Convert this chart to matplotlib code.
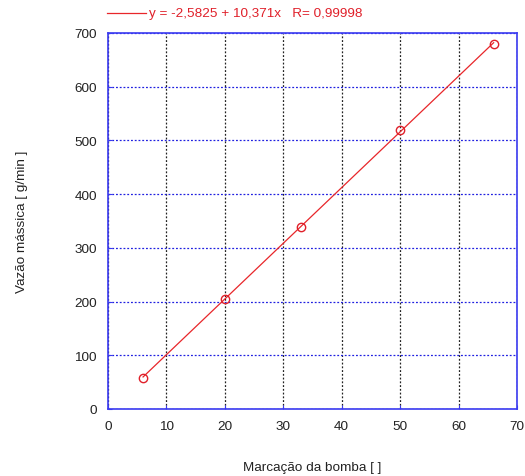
import numpy as np
import matplotlib.pyplot as plt

plt.rcParams['font.family'] = ['Liberation Sans', 'DejaVu Sans']

marcacao = [6, 20, 33, 50, 66]
vazao = [58, 204, 338, 519, 679]
a, b, r = -2.5825, 10.371, 0.99998

fig = plt.figure(figsize=(5.25, 4.77), dpi=100)
ax = fig.add_axes([108/525, 1-410/477, (517-108)/525, (410-34)/477])

x_fit = np.array([marcacao[0], marcacao[-1]])
ax.plot(x_fit, a + b*x_fit, color='#e8262a', lw=0.9)
ax.plot(marcacao, vazao, 'o', mfc='none', mec='#e0202a', ms=6, mew=1.0)

ax.set_xlim(0, 70)
ax.set_ylim(0, 700)
ax.set_xticks(range(0, 71, 10))
ax.set_yticks(range(0, 701, 100))
ax.grid(axis='x', color='#222222', ls=(0, (1.5, 1.5)), lw=0.9)
ax.grid(axis='y', color='#2020e0', ls=(0, (1.5, 1.5)), lw=0.9)
for s in ax.spines.values():
    s.set_color('#3a3af0')
    s.set_linewidth(1.2)
ax.tick_params(direction='in', length=3, color='#3a3af0', labelsize=9.7, pad=8, labelcolor='#222222')

ax.set_xlabel('Marcação da bomba [ ]', fontsize=9.7, color='#222222', labelpad=21)
ax.set_ylabel('Vazão mássica [ g/min ]', fontsize=9.7, color='#222222', labelpad=33)

fig.lines.append(plt.Line2D([107/525, 146/525], [1-14/477, 1-14/477], color='#e8262a', lw=0.9, transform=fig.transFigure))
eq = f"y = {a:.4f} + {b:.3f}x   R= {r:.5f}".replace('.', ',')
fig.text(149/525, 1-14/477, eq, color='#e0202a', fontsize=9.7, va='center', ha='left')

fig.savefig('out.png', dpi=100)
